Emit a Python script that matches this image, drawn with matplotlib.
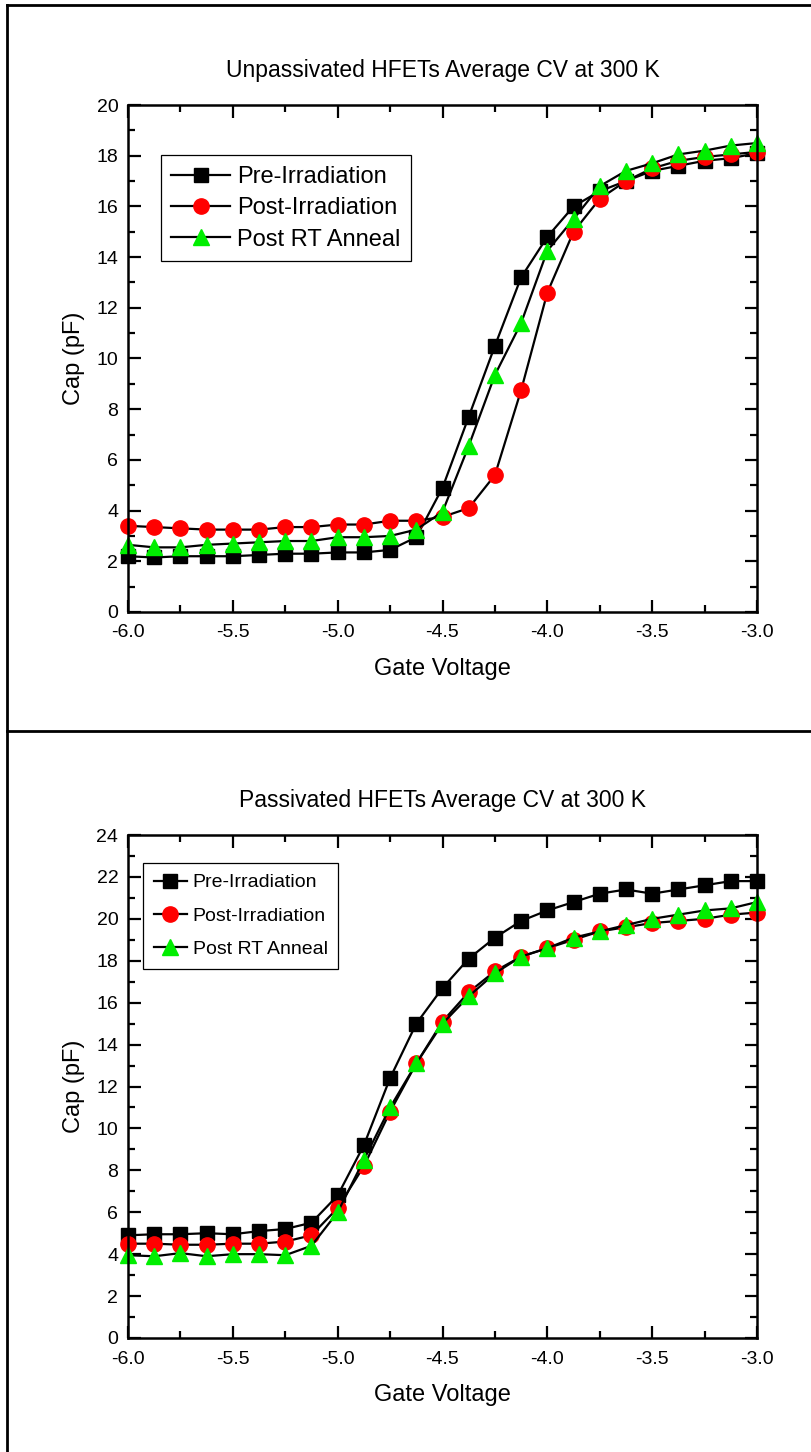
import matplotlib
matplotlib.use("Agg")
import matplotlib.pyplot as plt
from matplotlib import font_manager
from matplotlib.lines import Line2D
from matplotlib.ticker import MultipleLocator, FormatStrFormatter

plt.rcParams["font.family"] = ["Liberation Sans", "DejaVu Sans"]

gate_v = [-6.0, -5.875, -5.75, -5.625, -5.5, -5.375, -5.25, -5.125, -5.0,
          -4.875, -4.75, -4.625, -4.5, -4.375, -4.25, -4.125, -4.0, -3.875,
          -3.75, -3.625, -3.5, -3.375, -3.25, -3.125, -3.0]

# Unpassivated
unp_pre = [2.2, 2.15, 2.2, 2.2, 2.2, 2.25, 2.3, 2.3, 2.35, 2.35, 2.45, 2.95,
           4.9, 7.7, 10.5, 13.2, 14.8, 16.0, 16.6, 17.0, 17.4, 17.6, 17.8, 17.9, 18.1]
unp_post = [3.4, 3.35, 3.3, 3.25, 3.25, 3.25, 3.35, 3.35, 3.45, 3.45, 3.6, 3.6,
            3.75, 4.1, 5.4, 8.75, 12.6, 15.0, 16.3, 17.0, 17.5, 17.8, 17.95, 18.05, 18.15]
unp_anneal = [2.65, 2.55, 2.55, 2.65, 2.7, 2.75, 2.8, 2.8, 2.95, 2.95, 3.0, 3.25,
              3.95, 6.55, 9.35, 11.4, 14.25, 15.5, 16.8, 17.4, 17.7, 18.05, 18.2, 18.4, 18.5]

# Passivated
pas_pre = [4.9, 4.95, 4.95, 5.0, 4.95, 5.1, 5.2, 5.5, 6.8, 9.2, 12.4, 15.0,
           16.7, 18.1, 19.1, 19.9, 20.4, 20.8, 21.2, 21.4, 21.2, 21.4, 21.6, 21.8, 21.8]
pas_post = [4.5, 4.5, 4.45, 4.45, 4.5, 4.5, 4.6, 4.9, 6.2, 8.2, 10.8, 13.1,
            15.1, 16.5, 17.5, 18.2, 18.6, 19.0, 19.4, 19.6, 19.8, 19.9, 20.0, 20.2, 20.3]
pas_anneal = [3.95, 3.9, 4.05, 3.9, 4.0, 4.0, 3.95, 4.4, 6.0, 8.5, 11.0, 13.1,
              15.0, 16.3, 17.4, 18.2, 18.6, 19.1, 19.4, 19.7, 20.0, 20.2, 20.4, 20.5, 20.8]

labels = ["Pre-Irradiation", "Post-Irradiation", "Post RT Anneal"]
W, H = 811, 1452

# the lower legend uses a narrower face in the original
names = {f.name for f in font_manager.fontManager.ttflist}
if "Liberation Sans Narrow" in names:
    narrow_leg = dict(family="Liberation Sans Narrow", size=17)
    narrow_space = 0.5
else:
    narrow_leg = dict(family="Liberation Sans", size=14)
    narrow_space = 0.8


def axes_rect(left, top, right, bottom):
    return (left / W, 1 - bottom / H, (right - left) / W, (bottom - top) / H)


def draw_panel(ax, series, title, ymax, leg_anchor, leg_font, handle_len,
               spacing, bpad):
    styles = [dict(marker="s", color="black", ms=9.5),
              dict(marker="o", color="red", ms=11),
              dict(marker="^", color="#00ee00", ms=11)]
    for vals, lab, st in zip(series, labels, styles):
        ax.plot(gate_v, vals, color="black", lw=1.6, marker=st["marker"],
                markersize=st["ms"], markerfacecolor=st["color"],
                markeredgecolor=st["color"], label=lab, clip_on=False)
    ax.set_xlim(-6, -3)
    ax.set_ylim(0, ymax)
    ax.xaxis.set_major_locator(MultipleLocator(0.5))
    ax.xaxis.set_minor_locator(MultipleLocator(0.25))
    ax.xaxis.set_major_formatter(FormatStrFormatter("%.1f"))
    ax.yaxis.set_major_locator(MultipleLocator(2))
    ax.yaxis.set_minor_locator(MultipleLocator(1))
    ax.tick_params(which="both", direction="in", top=True, right=True,
                   width=1.6, labelsize=14)
    ax.tick_params(which="major", length=9)
    ax.tick_params(which="minor", length=5)
    ax.tick_params(axis="x", which="major", pad=9)
    ax.tick_params(axis="y", which="major", pad=7)
    for s in ax.spines.values():
        s.set_linewidth(1.8)
    ax.set_title(title, fontsize=16.5, pad=20)
    ax.set_xlabel("Gate Voltage", fontsize=17, labelpad=12)
    ax.set_ylabel("Cap (pF)", fontsize=17, labelpad=8)
    leg = ax.legend(loc="upper left", bbox_to_anchor=leg_anchor, prop=leg_font,
                    fancybox=False, edgecolor="black", framealpha=1,
                    handlelength=handle_len, handletextpad=0.3, borderpad=bpad,
                    labelspacing=spacing, borderaxespad=0)
    leg.get_frame().set_linewidth(0.9)


fig = plt.figure(figsize=(W / 100, H / 100), dpi=100, facecolor="white")

ax1 = fig.add_axes(axes_rect(128, 105, 757, 612))
draw_panel(ax1, [unp_pre, unp_post, unp_anneal],
           "Unpassivated HFETs Average CV at 300 K", 20, (0.052, 0.901),
           dict(family="Liberation Sans", size=17), 2.5, 0.4, 0.45)

ax2 = fig.add_axes(axes_rect(128, 835, 757, 1338))
draw_panel(ax2, [pas_pre, pas_post, pas_anneal],
           "Passivated HFETs Average CV at 300 K", 24, (0.024, 0.944),
           narrow_leg, 1.7, narrow_space, 0.55)

# outer frame lines
for xs, ys in [([7 / W, 7 / W], [0, 1 - 5 / H]),
               ([7 / W, 1], [1 - 5 / H, 1 - 5 / H]),
               ([7 / W, 1], [1 - 731 / H, 1 - 731 / H])]:
    fig.add_artist(Line2D(xs, ys, color="black", lw=2))

fig.savefig("out.png", dpi=100, facecolor="white")
